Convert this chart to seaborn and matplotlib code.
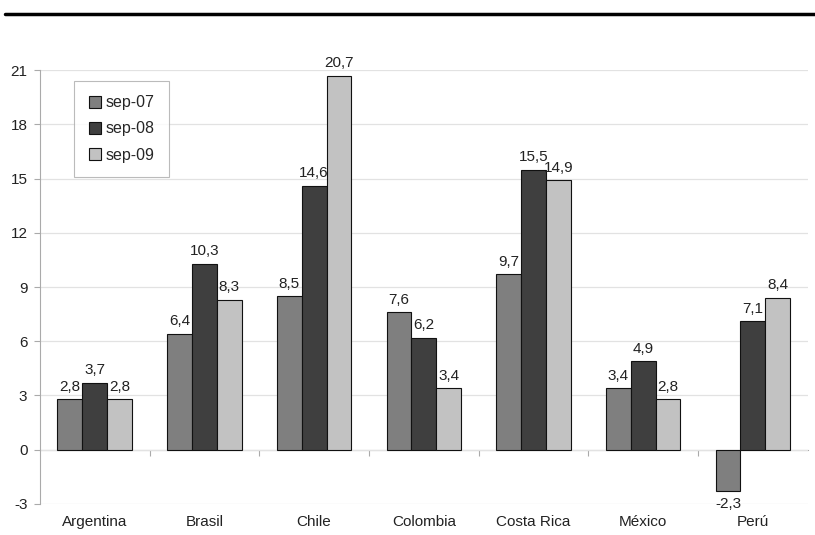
import matplotlib
matplotlib.use("Agg")
import matplotlib.pyplot as plt
import pandas as pd
import seaborn as sns

# -------------------------------------------------------
# Data
# -------------------------------------------------------

countries = ["Argentina", "Brasil", "Chile", "Colombia", "Costa Rica", "México", "Perú"]
periods = ["sep-07", "sep-08", "sep-09"]
sep_07 = [2.8, 6.4, 8.5, 7.6, 9.7, 3.4, -2.3]
sep_08 = [3.7, 10.3, 14.6, 6.2, 15.5, 4.9, 7.1]
sep_09 = [2.8, 8.3, 20.7, 3.4, 14.9, 2.8, 8.4]
y_ticks = [-3, 0, 3, 6, 9, 12, 15, 18, 21]

colors = ["#7f7f7f", "#3f3f3f", "#c2c2c2"]

df = pd.DataFrame({
    "Country": countries * 3,
    "Period": [p for p in periods for _ in countries],
    "Value": sep_07 + sep_08 + sep_09,
})

# -------------------------------------------------------
# Figure
# -------------------------------------------------------

sns.set_theme(style="white")
plt.rcParams["font.family"] = ["Liberation Sans", "DejaVu Sans"]
plt.rcParams["axes.unicode_minus"] = False

fig = plt.figure(figsize=(8.15, 5.35), dpi=100)
ax = fig.add_axes([0.049, 0.058, 0.942, 0.811])

sns.barplot(
    data=df,
    x="Country",
    y="Value",
    hue="Period",
    order=countries,
    hue_order=periods,
    palette=colors,
    width=0.68,
    edgecolor="#111111",
    linewidth=0.8,
    saturation=1,
    ax=ax,
)

for container in ax.containers:
    ax.bar_label(
        container,
        labels=[f"{v:.1f}".replace(".", ",") for v in container.datavalues],
        padding=4,
        fontsize=11,
        color="#222222",
    )

ymin, ymax = y_ticks[0], y_ticks[-1]
ax.set_ylim(ymin, ymax)
ax.set_yticks(y_ticks)
ax.set_xlim(-0.5, len(countries) - 0.5)
ax.yaxis.grid(True, color="#e2e2e2", linewidth=0.9)
ax.set_axisbelow(True)

ax.set_xlabel("")
ax.set_ylabel("")
ax.tick_params(axis="x", length=0, labelsize=11, pad=8, colors="#222222")
ax.tick_params(axis="y", left=True, length=4, width=0.8, color="#aaaaaa",
               labelsize=11, labelcolor="#222222", pad=5)

for side in ["top", "right", "bottom"]:
    ax.spines[side].set_visible(False)
ax.spines["left"].set_color("#aaaaaa")
ax.spines["left"].set_linewidth(0.8)

# zero line with category separators
zero_loc = (0 - ymin) / (ymax - ymin)
secax = ax.secondary_xaxis(zero_loc)
secax.set_xticks([i + 0.5 for i in range(len(countries) - 1)], labels=[])
secax.tick_params(axis="x", direction="out", length=4, width=0.8, color="#aaaaaa")
secax.spines["bottom"].set_color("#aaaaaa")
secax.spines["bottom"].set_linewidth(0.8)

legend = ax.legend(
    loc="upper left",
    bbox_to_anchor=(0.045, 0.975),
    frameon=True,
    fancybox=False,
    fontsize=11.5,
    handlelength=0.75,
    handleheight=0.75,
    handletextpad=0.3,
    labelspacing=0.7,
    borderpad=0.9,
    borderaxespad=0,
    title=None,
)
legend.get_frame().set_edgecolor("#aaaaaa")
legend.get_frame().set_linewidth(0.8)

# black rule at the top of the page
fig.add_artist(plt.Line2D([0.006, 1.0], [0.974, 0.974], color="black",
                          linewidth=2.5, transform=fig.transFigure))

fig.savefig("out.png", dpi=100)
